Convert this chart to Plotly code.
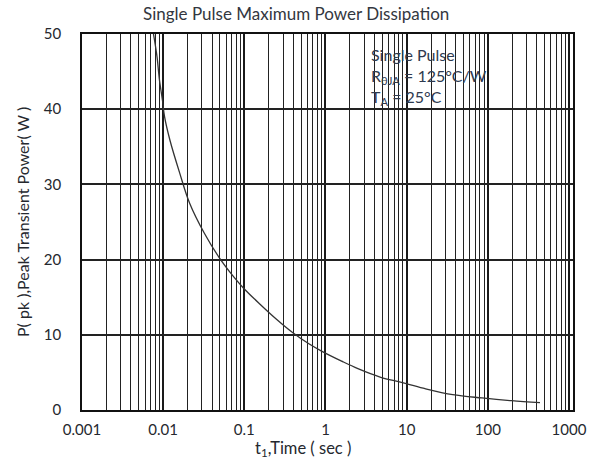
import plotly.graph_objects as go

# Data
time_s = [0.0076, 0.0084, 0.009, 0.0098, 0.0104, 0.0121, 0.016, 0.0212, 0.0322, 0.0488,
          0.0741, 0.098, 0.155, 0.247, 0.393, 0.624, 0.906, 1.58, 2.51, 4.8,
          8.4, 16, 37, 85, 196, 440]
power_w = [50, 47, 43.9, 41.2, 39, 35.9, 31.5, 27.5, 23.5, 20.3,
           17.7, 16.2, 14.1, 12.1, 10.3, 8.8, 7.8, 6.5, 5.5, 4.35,
           3.7, 2.9, 2.04, 1.6, 1.24, 0.97]

x_tickvals = [0.001, 0.01, 0.1, 1, 10, 100, 1000]
x_ticktext = ["0.001", "0.01", "0.1", "1", "10", "100", "1000"]
y_tickvals = [0, 10, 20, 30, 40, 50]

FONT = "Lato"
TXT = "#25282e"

fig = go.Figure()
fig.add_trace(go.Scatter(x=time_s, y=power_w, mode="lines",
                         line=dict(color="#333333", width=1.3, shape="spline"),
                         showlegend=False, hoverinfo="skip"))

fig.update_xaxes(type="log", range=[-3, 3.05],
                 tickvals=x_tickvals, ticktext=x_ticktext,
                 showgrid=True, gridcolor="#1a1a1a", gridwidth=2.2,
                 minor=dict(dtick="D1", showgrid=True, gridcolor="#222222", gridwidth=1.4),
                 showline=True, linecolor="#111111", linewidth=1.6, mirror=True,
                 zeroline=False, ticks="",
                 tickfont=dict(family=FONT, size=15, color=TXT),
                 ticklabelstandoff=5)
fig.update_yaxes(range=[0, 50], tickvals=y_tickvals,
                 showgrid=True, gridcolor="#222222", gridwidth=1.5,
                 showline=True, linecolor="#111111", linewidth=1.6, mirror=True,
                 zeroline=False, ticks="",
                 tickfont=dict(family=FONT, size=15, color=TXT),
                 ticklabelstandoff=16)

fig.add_annotation(text="Single Pulse Maximum Power Dissipation",
                   xref="paper", yref="paper", x=0.435, y=1.0, yshift=21,
                   showarrow=False, xanchor="center", yanchor="middle",
                   font=dict(family=FONT, size=17, color="#333740"))
fig.add_annotation(text="t<sub>1</sub>,Time ( sec )",
                   xref="paper", yref="paper", x=0.451, y=0, yshift=-38,
                   showarrow=False, xanchor="center", yanchor="middle",
                   font=dict(family=FONT, size=16.5, color=TXT))
fig.add_annotation(text="P( pk ),Peak Transient Power( W )",
                   xref="paper", yref="paper", x=0, xshift=-60, y=0.5,
                   textangle=-90, showarrow=False, xanchor="center", yanchor="middle",
                   font=dict(family=FONT, size=16, color=TXT))
fig.add_annotation(text="Single Pulse<br>R<sub>θJA</sub> = 125°C/W<br>T<sub>A</sub> = 25°C",
                   xref="paper", yref="paper", x=0.585, y=0.975,
                   showarrow=False, xanchor="left", yanchor="top", align="left",
                   font=dict(family=FONT, size=16, color="#2e3a4f"))

fig.update_layout(width=599, height=462,
                  margin=dict(l=82, r=16, t=34, b=52),
                  paper_bgcolor="white", plot_bgcolor="white")

# remove the default page margin so the figure fills the 599x462 window
fig.write_html("out.html",
               config={"displayModeBar": False},
               post_script="document.body.style.margin='0';document.body.style.overflow='hidden';")
